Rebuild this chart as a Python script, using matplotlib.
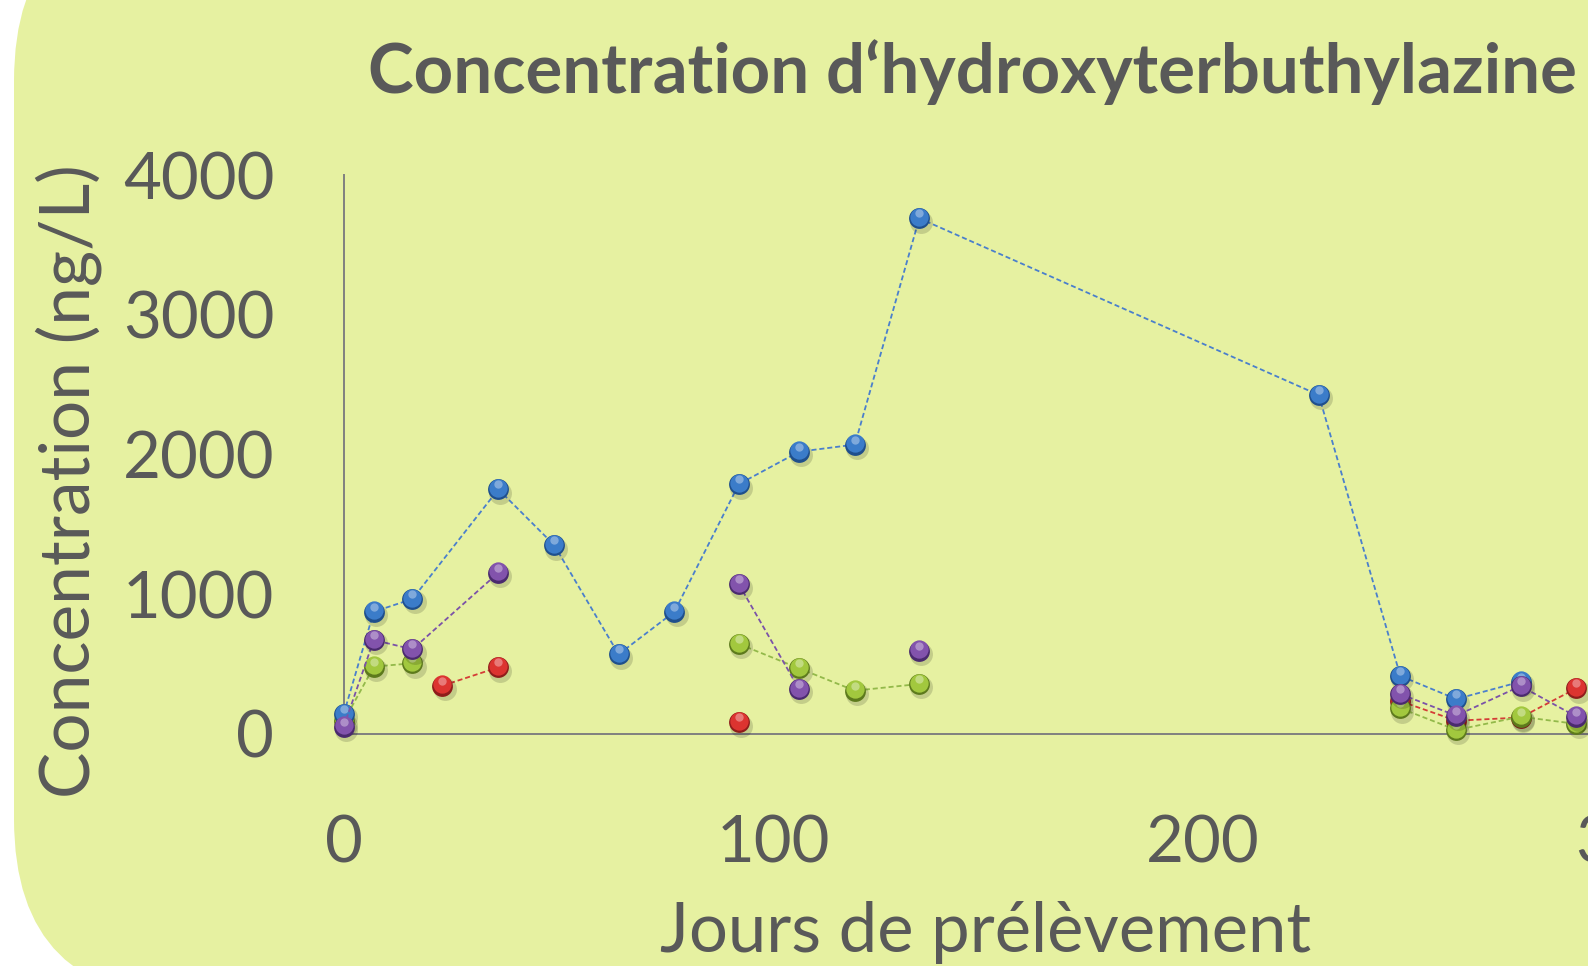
import numpy as np
import matplotlib
matplotlib.use('Agg')
import matplotlib.pyplot as plt
from matplotlib.patches import FancyBboxPatch
from matplotlib.transforms import IdentityTransform, offset_copy

plt.rcParams['font.family'] = ['Lato', 'DejaVu Sans']

nan = np.nan

##### data (jours, ng/L)
days_red = [23, 36, 64, 92, 227, 246, 259, 274, 287]
conc_red = [346, 477, nan, 84, nan, 235, 95, 118, 327]

days_green = [0, 7, 16, 49, 92, 106, 119, 134, 227, 246, 259, 274, 287]
conc_green = [90, 482, 506, nan, 644, 470, 310, 358, nan, 184, 29, 124, 72]

days_blue = [0, 7, 16, 36, 49, 64, 77, 92, 106, 119, 134, 227, 246, 259, 274]
conc_blue = [143, 875, 966, 1751, 1352, 570, 875, 1788, 2020, 2071, 3690, 2426, 415, 250, 374]

days_purple = [0, 7, 16, 36, 64, 92, 106, 119, 134, 227, 246, 259, 274, 287]
conc_purple = [52, 673, 606, 1154, nan, 1071, 322, nan, 596, nan, 286, 131, 343, 124]

yticks = [0, 1000, 2000, 3000, 4000]
xticks = [0, 100, 200, 300]

title = 'Concentration d\u2018hydroxyterbuthylazine'
xlabel = 'Jours de pr\u00e9l\u00e8vement'
ylabel = 'Concentration (ng/L)'

# (days, values, line colour, dark shade, body colour)
series = [
    (days_red, conc_red, '#d43c36', '#8e1d1b', '#dc3430'),
    (days_green, conc_green, '#93b94a', '#5d7a1c', '#a2c83e'),
    (days_blue, conc_blue, '#4a7fcc', '#1f4f8c', '#3b7cc9'),
    (days_purple, conc_purple, '#7b52a8', '#4a2a6e', '#8253ac'),
]

grey = '#595959'
bg = '#e6f1a1'

fig = plt.figure(figsize=(15.88, 9.66), dpi=100, facecolor='white')

# rounded chart area, in pixels
box = FancyBboxPatch((14, -33), 2300, 1098, boxstyle='round,pad=0,rounding_size=180',
                     transform=IdentityTransform(), facecolor=bg, edgecolor='none', zorder=0)
fig.add_artist(box)

ax = fig.add_axes([0.21644, 0.24017, 0.9467, 0.57867])
ax.set_facecolor('none')
ax.set_xlim(0, 350)
ax.set_ylim(0, 4000)

for k, (d, c, lc, dark, body) in enumerate(series):
    z = 3 + k
    ax.plot(d, c, color=lc, lw=1.3, ls=(0, (2.8, 1.6)), zorder=z, clip_on=False)
    shadow = offset_copy(ax.transData, fig=fig, x=1.5, y=-2.5, units='points')
    ax.plot(d, c, 'o', ms=16.5, mfc='black', mec='none', alpha=0.15, transform=shadow,
            zorder=z, clip_on=False)
    ax.plot(d, c, 'o', ms=15, mfc=dark, mec='none', zorder=z, clip_on=False)
    up = offset_copy(ax.transData, fig=fig, x=0, y=0.9, units='points')
    ax.plot(d, c, 'o', ms=13.2, mfc=body, mec='none', transform=up, zorder=z, clip_on=False)
    hi = offset_copy(ax.transData, fig=fig, x=0, y=3.6, units='points')
    ax.plot(d, c, 'o', ms=6, mfc='white', mec='none', alpha=0.35, transform=hi,
            zorder=z, clip_on=False)

for s in ['top', 'right']:
    ax.spines[s].set_visible(False)
for s in ['left', 'bottom']:
    ax.spines[s].set_color('#808080')
    ax.spines[s].set_linewidth(1.4)

ax.set_xticks(xticks)
ax.set_yticks(yticks)
ax.tick_params(length=0, labelsize=47, labelcolor=grey)
ax.tick_params(axis='y', pad=50)
ax.tick_params(axis='x', pad=58)

fig.text(367.6 / 1588, 1 - 93 / 966, title, ha='left', va='baseline',
         fontsize=49.7, weight='bold', color=grey)
fig.text(986 / 1588, 1 - 952 / 966, xlabel, ha='center', va='baseline',
         fontsize=49.5, color=grey)
fig.text(90 / 1588, 1 - 481 / 966, ylabel, ha='center', va='baseline', rotation=90,
         rotation_mode='anchor', fontsize=50, color=grey)

fig.savefig('out.png', dpi=100, facecolor='white')
